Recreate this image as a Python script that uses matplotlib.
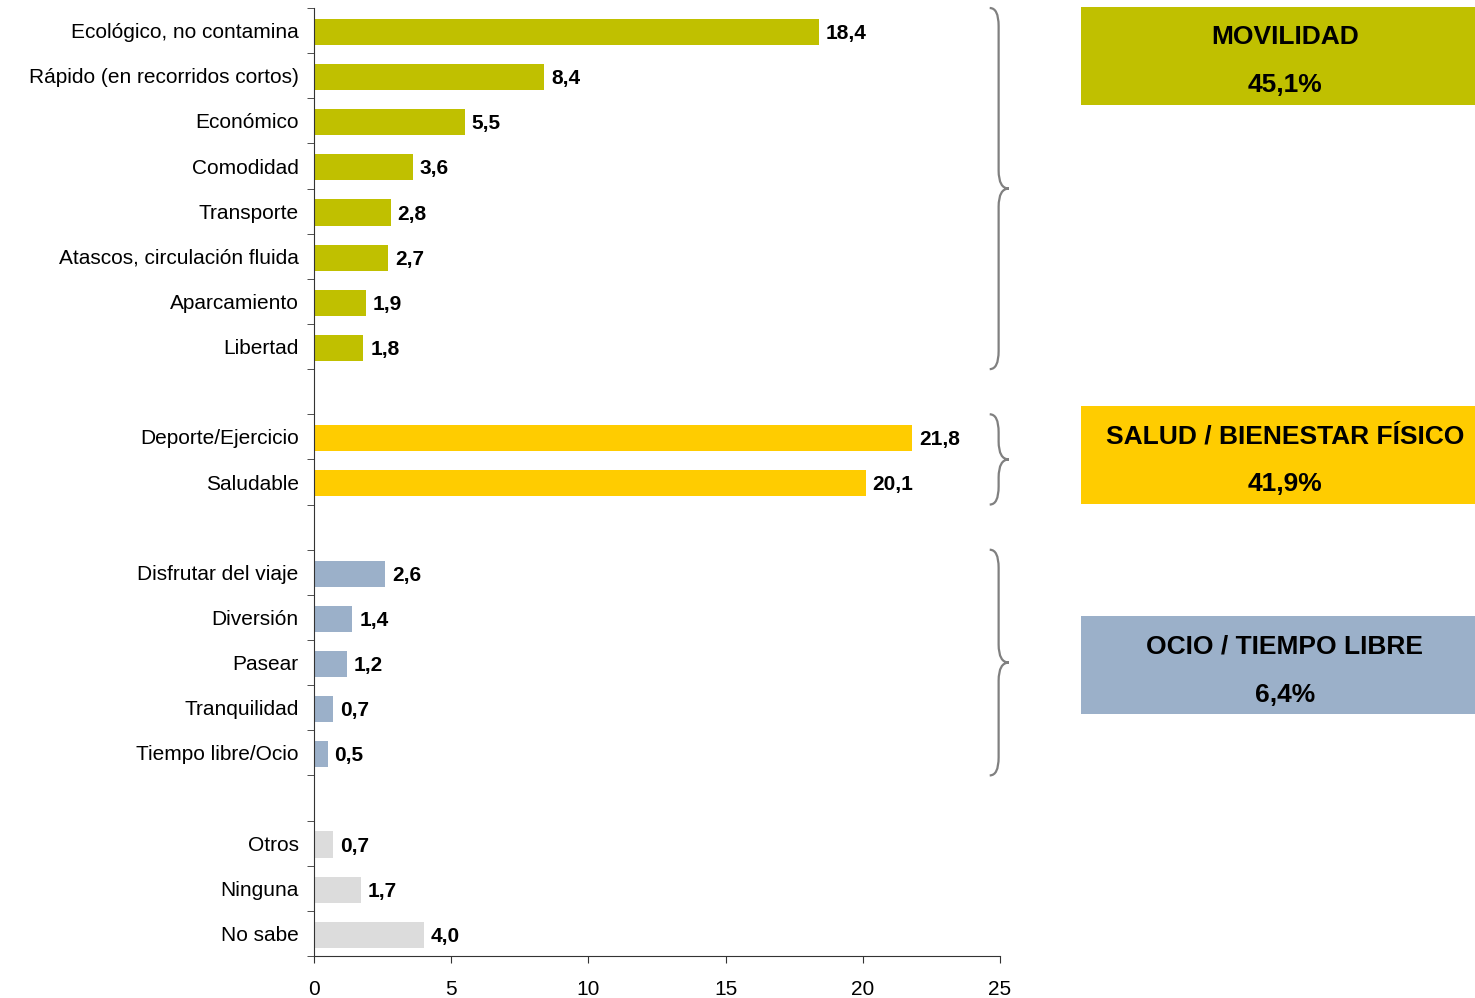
import matplotlib

matplotlib.use("Agg")
import matplotlib.pyplot as plt
from matplotlib.path import Path
from matplotlib.patches import PathPatch, Rectangle
import matplotlib.transforms as mtransforms

plt.rcParams["font.family"] = ["Liberation Sans", "DejaVu Sans"]

# data
mov_labels = ["Ecológico, no contamina", "Rápido (en recorridos cortos)", "Económico",
              "Comodidad", "Transporte", "Atascos, circulación fluida",
              "Aparcamiento", "Libertad"]
mov_values = [18.4, 8.4, 5.5, 3.6, 2.8, 2.7, 1.9, 1.8]
salud_labels = ["Deporte/Ejercicio", "Saludable"]
salud_values = [21.8, 20.1]
ocio_labels = ["Disfrutar del viaje", "Diversión", "Pasear", "Tranquilidad", "Tiempo libre/Ocio"]
ocio_values = [2.6, 1.4, 1.2, 0.7, 0.5]
otros_labels = ["Otros", "Ninguna", "No sabe"]
otros_values = [0.7, 1.7, 4.0]

group_names = ["MOVILIDAD", "SALUD / BIENESTAR FÍSICO", "OCIO / TIEMPO LIBRE"]
group_totals = ["45,1%", "41,9%", "6,4%"]

colors = ["#C0C000", "#FFCC00", "#9BB0C9", "#DCDCDC"]

groups = [(mov_labels, mov_values), (salud_labels, salud_values),
          (ocio_labels, ocio_values), (otros_labels, otros_values)]

fig = plt.figure(figsize=(14.75, 9.98), dpi=100)
ax = fig.add_axes([314 / 1475, 42 / 998, 686 / 1475, 948 / 998])

pos = 0
spans = []
ylabels, ypos = [], []
for gi, (labs, vals) in enumerate(groups):
    start = pos
    for lab, v in zip(labs, vals):
        ax.barh(pos + 0.03, v, height=0.58, color=colors[gi])
        ax.text(v + 0.25, pos + 0.02, f"{v:.1f}".replace(".", ","), va="center_baseline",
                ha="left", fontsize=15, fontweight="bold")
        ylabels.append(lab)
        ypos.append(pos)
        pos += 1
    spans.append((start - 0.5, pos - 0.5))
    pos += 1  # blank slot between groups
n_slots = pos - 1

ax.set_ylim(n_slots - 0.5, -0.5)
ax.set_xlim(0, 25)
ax.set_xticks([0, 5, 10, 15, 20, 25])
ax.tick_params(axis="x", labelsize=15, length=5, pad=12, color="#333333")
ax.set_yticks(ypos)
ax.set_yticklabels(ylabels, fontsize=15)
ax.tick_params(axis="y", length=0, pad=11)
ax.set_yticks([i - 0.5 for i in range(n_slots + 1)], minor=True)
ax.tick_params(axis="y", which="minor", length=5, color="#333333")
for s in ["top", "right"]:
    ax.spines[s].set_visible(False)
for s in ["left", "bottom"]:
    ax.spines[s].set_color("#333333")

# braces
trans = mtransforms.blended_transform_factory(ax.transAxes, ax.transData)
xa, xb, xc = 0.985, 0.998, 1.013
r = 0.4
for top, bot in spans[:3]:
    mid = (top + bot) / 2
    verts = [(xa, top), (xb, top), (xb, top + r),
             (xb, mid - r), (xb, mid), (xc, mid),
             (xb, mid), (xb, mid + r),
             (xb, bot - r), (xb, bot), (xa, bot)]
    codes = [Path.MOVETO, Path.CURVE3, Path.CURVE3,
             Path.LINETO, Path.CURVE3, Path.CURVE3,
             Path.CURVE3, Path.CURVE3,
             Path.LINETO, Path.CURVE3, Path.CURVE3]
    ax.add_patch(PathPatch(Path(verts, codes), transform=trans, fill=False,
                           edgecolor="#808080", lw=1.6, clip_on=False))

# group boxes (figure pixel layout)
box_tops = [7, 406, 616]
for name, tot, col, yt in zip(group_names, group_totals, colors, box_tops):
    fig.patches.append(Rectangle((1081 / 1475, 1 - (yt + 98) / 998), 394 / 1475, 98 / 998,
                                 transform=fig.transFigure, facecolor=col, edgecolor="none"))
    fig.text(1285 / 1475, 1 - (yt + 28) / 998, name, ha="center", va="center_baseline",
             fontsize=19, fontweight="bold")
    fig.text(1285 / 1475, 1 - (yt + 76) / 998, tot, ha="center", va="center_baseline",
             fontsize=19, fontweight="bold")

fig.savefig("out.png", dpi=100)
